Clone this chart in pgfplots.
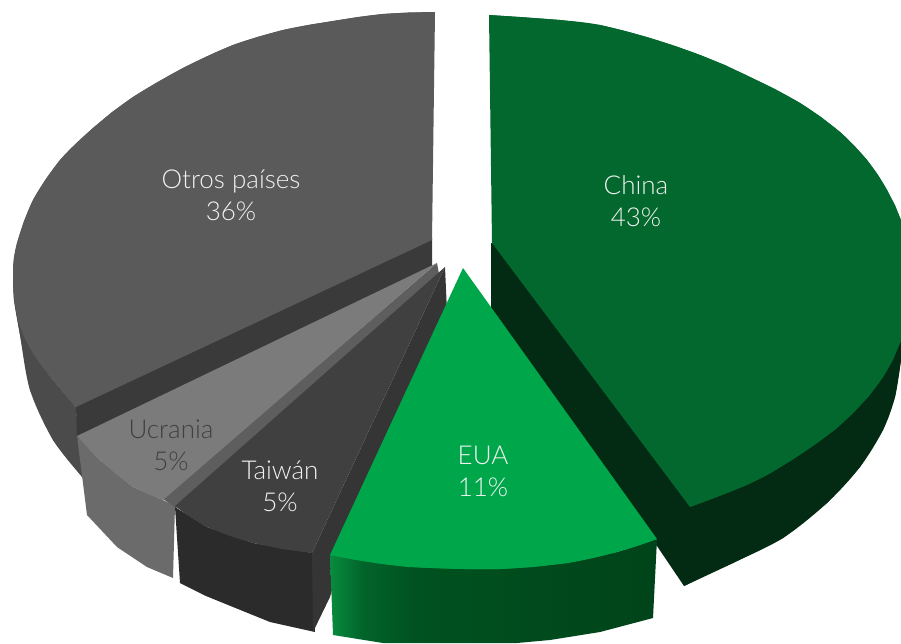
\documentclass[border=0pt]{standalone}
\usepackage{fontspec}
\setmainfont{Lato Light}
\usepackage{pgfplots}
\pgfplotsset{compat=1.18}
\definecolor{chinaT}{HTML}{03682E}
\definecolor{chinaS}{HTML}{032A12}
\definecolor{euaT}{HTML}{00A74A}
\definecolor{euaL}{HTML}{088C3E}
\definecolor{euaA}{HTML}{02642A}
\definecolor{euaM}{HTML}{00521F}
\definecolor{euaR}{HTML}{00431A}
\definecolor{otT}{HTML}{5A5A5A}
\definecolor{otB}{HTML}{3A3A3A}
\definecolor{otS}{HTML}{4B4B4B}
\definecolor{ucT}{HTML}{7B7B7B}
\definecolor{ucB}{HTML}{5E5E5E}
\definecolor{ucS}{HTML}{6B6B6B}
\definecolor{taT}{HTML}{404040}
\definecolor{taB}{HTML}{353535}
\definecolor{taS}{HTML}{2B2B2B}
\definecolor{lab}{HTML}{F2F2F2}
\pgfdeclarehorizontalshading{euaside}{100bp}{color(0bp)=(euaL); color(25bp)=(euaL); color(30bp)=(euaA); color(38bp)=(euaM); color(75bp)=(euaR); color(100bp)=(euaR)}
\tikzset{lbl/.style={font=\fontsize{26}{31}\selectfont, align=center, text=lab, inner sep=0pt}}
\begin{document}
\begin{tikzpicture}
\begin{axis}[
  scale only axis, width=901pt, height=643pt,
  xmin=0, xmax=901, ymin=0, ymax=643, y dir=reverse,
  hide axis, clip=true,
  every axis plot/.append style={draw=none, fill},
]
\path (rel axis cs:0,0) rectangle (rel axis cs:1,1);
% Otros paises
\addplot[fill=otS] coordinates {(13,273)(14,300)(20,335)(30,390)(53,440)(83,478)(90,440)(78,430)(76,407)(53,380)(33,353)} --cycle;
\addplot[fill=otS, smooth] coordinates {(13,273)(14,300)(20,335)(30,390)(53,440)(83,478)} --cycle;
\addplot[fill=otB] coordinates {(76,405)(432,238)(432,266)(160,400)(77,440)} --cycle;
\addplot[fill=otT] coordinates {(435,12)(408,12.5)(383,14)(358,17)(333,21)(308,25)(283,30)(258,37)(233,45)(208,56)(183,68)(158,82)(133,97)(112,112)(93,128)(76,144)(60,160)(46,179)(33,200)(24,221)(17,243)(14,258)(13,273)(14,298)(18,320)(24,337)(33,353)(43,367)(53,380)(64,393)(76,407)(432,240)} --cycle;
\addplot[fill=otT, smooth] coordinates {(435,12)(383,14)(333,21)(283,30)(233,45)(183,68)(133,97)(93,128)(60,160)(33,200)(17,243)(13,273)(18,320)(33,353)(53,380)(76,407)} --cycle;
% Ucrania
\addplot[fill=ucS] coordinates {(77,436)(87,515)(117,547)(147,567)(173,578)(175,506)(163,500)(133,487)(100,460)} --cycle;
\addplot[fill=ucB] coordinates {(163,499)(437,263)(439,274)(176,508)} --cycle;
\addplot[fill=ucT] coordinates {(437,263)(77,436)(88,448)(100,460)(116,474)(133,487)(148,494)(163,500)} --cycle;
% Taiwan
\addplot[fill=taS] coordinates {(175,507)(180,583)(206,596)(233,607)(270,622)(315,632)(313,553)(253,543)(207,527)} --cycle;
\addplot[fill=taB] coordinates {(445,267)(447,312)(340,560)(330,597)(313,632)(312,553)} --cycle;
\addplot[fill=taT] coordinates {(445,267)(175,506)(190,517)(207,527)(230,536)(253,543)(282,549)(312,553)} --cycle;
% China
\addplot[fill=chinaS] coordinates {(491,243)(491,330)(640,530)(657,546)(684,586)(708,574)(733,563)(783,538)(827,503)(860,467)(883,430)(895,397)(901,360)(901,340)} --cycle;
\addplot[fill=chinaS, smooth] coordinates {(684,586)(733,563)(783,538)(827,503)(860,467)(883,430)(895,397)(901,360)} --cycle;
% EUA
\addplot[draw=none, fill=none, shading=euaside] coordinates {(330,555)(333,635)(383,643)(517,643)(550,640)(600,632)(653,618)(657,539)(617,552)(500,569)} --cycle;
\addplot[fill=euaT] coordinates {(463,268)(657,539)(637,546)(617,552)(592,558)(567,563)(533,567)(500,569)(466,569)(433,568)(408,567)(383,564)(356,560)(330,555)} --cycle;
\addplot[fill=euaT, smooth] coordinates {(657,539)(617,552)(567,563)(500,569)(433,568)(383,564)(330,555)} --cycle;
% China top
\addplot[fill=chinaT] coordinates {(489,15)(520,17)(560,20)(600,25)(625,31)(650,38)(675,46)(700,55)(725,65)(750,77)(775,89)(800,103)(821,117)(840,132)(854,146)(867,160)(878,175)(887,190)(895,205)(901,220)(901,340)(893,360)(883,377)(869,396)(853,413)(836,429)(817,443)(792,460)(767,475)(747,485)(727,493)(708,500)(690,507)(492,243)} --cycle;
\addplot[fill=chinaT, smooth] coordinates {(489,15)(560,20)(600,25)(650,38)(700,55)(750,77)(800,103)(840,132)(867,160)(887,190)(905,230)} --cycle;
\addplot[fill=chinaT, smooth] coordinates {(905,332)(883,377)(853,413)(817,443)(767,475)(727,493)(690,507)} --cycle;
\node[lbl] at (axis cs:231,195) {Otros países\\[1pt]36\%};
\node[lbl] at (axis cs:636,201) {China\\[1pt]43\%};
\node[lbl] at (axis cs:483,471) {EUA\\[1pt]11\%};
\node[lbl, text=black!75] at (axis cs:171,445) {Ucrania\\[1pt]5\%};
\node[lbl] at (axis cs:280,486) {Taiwán\\[1pt]5\%};
\end{axis}
\end{tikzpicture}
\end{document}
